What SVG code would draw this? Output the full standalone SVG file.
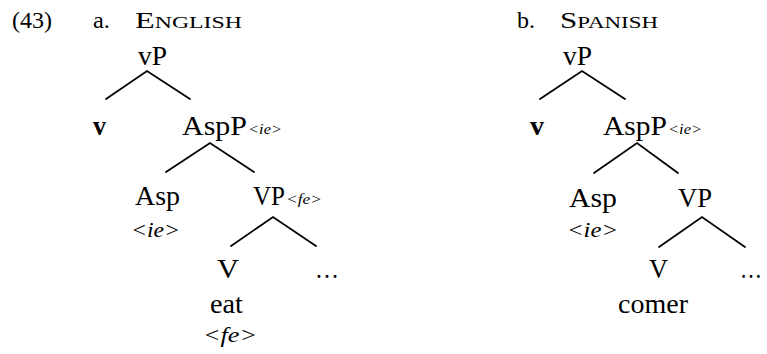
<svg xmlns="http://www.w3.org/2000/svg" width="767" height="354" viewBox="0 0 767 354">
<style>
text{font-family:"Liberation Serif","DejaVu Serif","Times New Roman",serif;fill:#000}
.n{font-size:27px}
.b{font-weight:bold}
.h{font-size:23px}
.sc{font-size:17px}
.f{font-style:italic;font-size:15px}
.fl{font-style:italic;font-size:22px}
.e{stroke:#000;stroke-width:1.8;fill:none;stroke-linecap:round}
</style>
<rect width="767" height="354" fill="#fff"/>
<g id="labels">
<text class="h" x="12" y="28" textLength="40" lengthAdjust="spacingAndGlyphs">(43)</text>
<text class="h" x="93" y="28" textLength="17" lengthAdjust="spacingAndGlyphs">a.</text>
<text class="h" x="135" y="28" textLength="107" lengthAdjust="spacingAndGlyphs">E<tspan class="sc">NGLISH</tspan></text>
<text class="h" x="517" y="28" textLength="18" lengthAdjust="spacingAndGlyphs">b.</text>
<text class="h" x="560" y="28" textLength="98" lengthAdjust="spacingAndGlyphs">S<tspan class="sc">PANISH</tspan></text>
</g>
<g id="tree-a">
<g id="a-vP"><text class="n" x="138" y="65" textLength="29" lengthAdjust="spacingAndGlyphs">vP</text></g>
<g id="a-v"><text class="n b" x="93" y="135" textLength="13" lengthAdjust="spacingAndGlyphs">v</text></g>
<g id="a-AspP"><text class="n" x="182" y="135" textLength="65" lengthAdjust="spacingAndGlyphs">AspP</text><text class="f" x="248" y="134" textLength="34" lengthAdjust="spacingAndGlyphs">&lt;ie&gt;</text></g>
<g id="a-Asp"><text class="n" x="135" y="205" textLength="45" lengthAdjust="spacingAndGlyphs">Asp</text><text class="fl" x="131" y="237" textLength="49" lengthAdjust="spacingAndGlyphs">&lt;ie&gt;</text></g>
<g id="a-VP"><text class="n" x="253" y="205" textLength="32" lengthAdjust="spacingAndGlyphs">VP</text><text class="f" x="286" y="204" textLength="36" lengthAdjust="spacingAndGlyphs">&lt;fe&gt;</text></g>
<g id="a-V"><text class="n" x="217" y="278" textLength="22" lengthAdjust="spacingAndGlyphs">V</text><text class="n" x="210" y="313" textLength="33" lengthAdjust="spacingAndGlyphs">eat</text><text class="fl" x="203" y="342" textLength="54" lengthAdjust="spacingAndGlyphs">&lt;fe&gt;</text></g>
<g id="a-dots"><text class="n" x="315" y="278" textLength="24" lengthAdjust="spacingAndGlyphs">…</text></g>
</g>
<g id="tree-b">
<g id="b-vP"><text class="n" x="563" y="65" textLength="29" lengthAdjust="spacingAndGlyphs">vP</text></g>
<g id="b-v"><text class="n b" x="530" y="135" textLength="14" lengthAdjust="spacingAndGlyphs">v</text></g>
<g id="b-AspP"><text class="n" x="603" y="135" textLength="64" lengthAdjust="spacingAndGlyphs">AspP</text><text class="f" x="668" y="134" textLength="34" lengthAdjust="spacingAndGlyphs">&lt;ie&gt;</text></g>
<g id="b-Asp"><text class="n" x="569" y="207" textLength="48" lengthAdjust="spacingAndGlyphs">Asp</text><text class="fl" x="567" y="237" textLength="51" lengthAdjust="spacingAndGlyphs">&lt;ie&gt;</text></g>
<g id="b-VP"><text class="n" x="678" y="207" textLength="34" lengthAdjust="spacingAndGlyphs">VP</text></g>
<g id="b-V"><text class="n" x="649" y="278" textLength="19" lengthAdjust="spacingAndGlyphs">V</text><text class="n" x="618" y="313" textLength="70" lengthAdjust="spacingAndGlyphs">comer</text></g>
<g id="b-dots"><text class="n" x="740" y="278" textLength="22" lengthAdjust="spacingAndGlyphs">…</text></g>
</g>
<g id="connectors">
<path class="e" d="M106 99L147 71L190 99"/>
<path class="e" d="M166 172L210 143L254 172"/>
<path class="e" d="M231 246L273 217L316 246"/>
<path class="e" d="M540 99L582 71L625 99"/>
<path class="e" d="M594 173L637 143L678 173"/>
<path class="e" d="M659 247L702 217L745 247"/>
</g>
</svg>
